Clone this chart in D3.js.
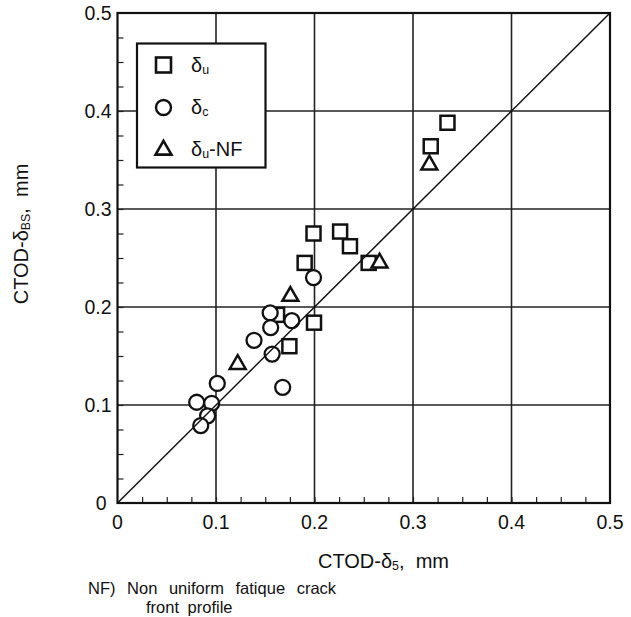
<!DOCTYPE html>
<html>
<head>
<meta charset="utf-8">
<script src="https://cdn.jsdelivr.net/npm/d3@7"></script>
<style>
  body { margin: 0; background: #fff; }
  text { font-family: "Liberation Sans", Arial, Helvetica, sans-serif; fill: #111; }
</style>
</head>
<body>
<div id="chart"></div>
<script>
// values (CTOD-d5, CTOD-dBS) in mm
var deltaU = [
  [0.335, 0.388], [0.318, 0.364], [0.199, 0.275], [0.226, 0.277],
  [0.236, 0.262], [0.190, 0.245], [0.255, 0.245], [0.1995, 0.184],
  [0.1745, 0.160], [0.162, 0.192]
];
var deltaC = [
  [0.199, 0.230], [0.155, 0.194], [0.177, 0.186], [0.1555, 0.179],
  [0.1386, 0.166], [0.157, 0.152], [0.1677, 0.118], [0.1013, 0.122],
  [0.0804, 0.1028], [0.0956, 0.1017], [0.0915, 0.089], [0.0845, 0.079]
];
var deltaUNF = [
  [0.3166, 0.346], [0.266, 0.246], [0.1755, 0.212], [0.122, 0.1425]
];
var majorTicks = [0, 0.1, 0.2, 0.3, 0.4, 0.5];
var tickLabels = ["0", "0.1", "0.2", "0.3", "0.4", "0.5"];
var minorTicks = d3.range(0.025, 0.5, 0.025);

var svgWidth = 631;
var svgHeight = 617;

var margin = { top: 13, left: 117.5 };
var width = 492.5;
var height = 490;

var svg = d3.select("#chart")
  .append("svg")
  .attr("width", svgWidth)
  .attr("height", svgHeight);

var chartGroup = svg.append("g")
  .attr("transform", `translate(${margin.left}, ${margin.top})`);

var xScale = d3.scaleLinear().domain([0, 0.5]).range([0, width]);
var yScale = d3.scaleLinear().domain([0, 0.5]).range([height, 0]);

// grid
chartGroup.append("g")
  .selectAll("line")
  .data(majorTicks.slice(1, 5))
  .enter()
  .append("line")
  .attr("x1", d => xScale(d))
  .attr("x2", d => xScale(d))
  .attr("y1", 0)
  .attr("y2", height)
  .attr("stroke", "#222")
  .attr("stroke-width", 1.6);

chartGroup.append("g")
  .selectAll("line")
  .data(majorTicks.slice(1, 5))
  .enter()
  .append("line")
  .attr("y1", d => yScale(d))
  .attr("y2", d => yScale(d))
  .attr("x1", 0)
  .attr("x2", width)
  .attr("stroke", "#222")
  .attr("stroke-width", 1.6);

// minor ticks, inside, left and bottom
var bottomAxis = d3.axisTop(xScale).tickValues(minorTicks).tickSize(6).tickFormat("");
var leftAxis = d3.axisRight(yScale).tickValues(minorTicks).tickSize(6).tickFormat("");

chartGroup.append("g")
  .attr("transform", `translate(0, ${height})`)
  .call(bottomAxis)
  .call(g => g.select(".domain").remove())
  .selectAll("line").attr("stroke", "#222").attr("stroke-width", 1.2);

chartGroup.append("g")
  .call(leftAxis)
  .call(g => g.select(".domain").remove())
  .selectAll("line").attr("stroke", "#222").attr("stroke-width", 1.2);

// tick labels
chartGroup.selectAll(".xlab")
  .data(majorTicks)
  .enter()
  .append("text")
  .attr("class", "xlab")
  .attr("x", d => xScale(d))
  .attr("y", height + 26)
  .attr("text-anchor", "middle")
  .attr("font-size", 19.5)
  .text((d, i) => tickLabels[i]);

chartGroup.selectAll(".ylab")
  .data(majorTicks)
  .enter()
  .append("text")
  .attr("class", "ylab")
  .attr("x", d => d === 0 ? -11 : -6)
  .attr("y", d => yScale(d) + 7)
  .attr("text-anchor", "end")
  .attr("font-size", 19.5)
  .text((d, i) => tickLabels[i]);

// frame
chartGroup.append("rect")
  .attr("width", width)
  .attr("height", height)
  .attr("fill", "none")
  .attr("stroke", "#111")
  .attr("stroke-width", 2.2);

// marks
var sq = 14;
chartGroup.append("g")
  .selectAll("rect")
  .data(deltaU)
  .enter()
  .append("rect")
  .attr("x", d => xScale(d[0]) - sq / 2)
  .attr("y", d => yScale(d[1]) - sq / 2)
  .attr("width", sq)
  .attr("height", sq)
  .attr("fill", "#fff")
  .attr("stroke", "#111")
  .attr("stroke-width", 2.5);

chartGroup.append("g")
  .selectAll("circle")
  .data(deltaC)
  .enter()
  .append("circle")
  .attr("cx", d => xScale(d[0]))
  .attr("cy", d => yScale(d[1]))
  .attr("r", 7.5)
  .attr("fill", "#fff")
  .attr("stroke", "#111")
  .attr("stroke-width", 2.3);

var tri = d3.symbol().type(d3.symbolTriangle).size(110);
chartGroup.append("g")
  .selectAll("path")
  .data(deltaUNF)
  .enter()
  .append("path")
  .attr("d", tri)
  .attr("transform", d => `translate(${xScale(d[0])}, ${yScale(d[1]) + 1})`)
  .attr("fill", "#fff")
  .attr("stroke", "#111")
  .attr("stroke-width", 2.5);

// 1:1 line
chartGroup.append("line")
  .attr("x1", xScale(0))
  .attr("y1", yScale(0))
  .attr("x2", xScale(0.5))
  .attr("y2", yScale(0.5))
  .attr("stroke", "#111")
  .attr("stroke-width", 1.5);

// legend
var legend = svg.append("g");
legend.append("rect")
  .attr("x", 137)
  .attr("y", 43.5)
  .attr("width", 128.5)
  .attr("height", 124)
  .attr("fill", "#fff")
  .attr("stroke", "#111")
  .attr("stroke-width", 2.2);

legend.append("rect")
  .attr("x", 163.5 - 7.5).attr("y", 65 - 7.5)
  .attr("width", 15).attr("height", 15)
  .attr("fill", "#fff").attr("stroke", "#111").attr("stroke-width", 2.6);
legend.append("circle")
  .attr("cx", 163.5).attr("cy", 107.5).attr("r", 7.5)
  .attr("fill", "#fff").attr("stroke", "#111").attr("stroke-width", 2.4);
legend.append("path")
  .attr("d", tri)
  .attr("transform", "translate(163.5, 150)")
  .attr("fill", "#fff").attr("stroke", "#111").attr("stroke-width", 2.6);

function subLabel(g, x, y, main, sub, rest, size) {
  var t = g.append("text").attr("x", x).attr("y", y).attr("font-size", size);
  t.append("tspan").text(main);
  t.append("tspan").attr("font-size", size * 0.62).attr("dy", 2).text(sub);
  if (rest) t.append("tspan").attr("dy", -2).text(rest);
  return t;
}

subLabel(legend, 191, 72, "δ", "u", null, 20);
subLabel(legend, 191, 114, "δ", "c", null, 20);
subLabel(legend, 191, 156, "δ", "u", "-NF", 20);

// axis titles
subLabel(svg, 318, 568, "CTOD-δ", "5", ",  mm", 20)
  .attr("xml:space", "preserve");

var yTitle = svg.append("g")
  .attr("transform", "translate(28, 234) rotate(-90)");
subLabel(yTitle, 0, 0, "CTOD-δ", "BS", ",  mm", 20)
  .attr("text-anchor", "middle")
  .attr("xml:space", "preserve");

// footnote
svg.append("text")
  .attr("x", 88)
  .attr("y", 594)
  .attr("font-size", 16.5)
  .attr("word-spacing", 7)
  .text("NF) Non uniform fatique crack");
svg.append("text")
  .attr("x", 146)
  .attr("y", 612.5)
  .attr("font-size", 16.5)
  .attr("word-spacing", 4)
  .text("front profile");
</script>
</body>
</html>
